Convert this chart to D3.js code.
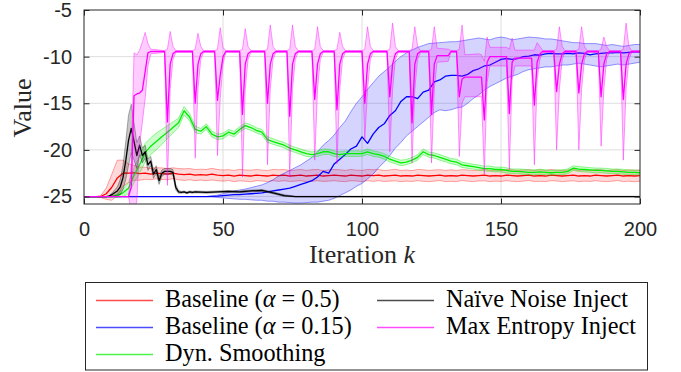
<!DOCTYPE html>
<html>
<head>
<meta charset="utf-8">
<script src="https://cdn.jsdelivr.net/npm/d3@7"></script>
<style>
  body { margin: 0; background: #fff; }
  svg { display: block; }
</style>
</head>
<body>
<svg id="chart" width="681" height="372"></svg>
<script>
// iteration grids the values were read on
const kEven = d3.range(0, 201, 2);
const kBlack = d3.range(0, 41).concat(d3.range(44, 201, 4));

const xTicks = [0, 50, 100, 150, 200];
const yTicks = [-25, -20, -15, -10, -5];

// Baseline (alpha = 0.5): mean and std, every 2 iterations
const redMean = [
  -25, -25, -25, -25, -24.7, -24.0, -23.0, -22.5, -22.5, -22.45,
  -22.55, -22.5, -22.6, -22.5, -22.55, -22.6, -22.5, -22.6, -22.65, -22.6,
  -22.7, -22.65, -22.7, -22.6, -22.7, -22.75, -22.7, -22.8, -22.7, -22.75,
  -22.8, -22.7, -22.75, -22.8, -22.7, -22.75, -22.7, -22.8, -22.75, -22.7,
  -22.8, -22.75, -22.7, -22.8, -22.75, -22.7, -22.75, -22.8, -22.7, -22.75,
  -22.8, -22.7, -22.75, -22.7, -22.8, -22.75, -22.7, -22.8, -22.75, -22.8,
  -22.7, -22.75, -22.8, -22.75, -22.7, -22.8, -22.75, -22.8, -22.7, -22.75,
  -22.8, -22.75, -22.7, -22.8, -22.75, -22.8, -22.7, -22.75, -22.8, -22.75,
  -22.7, -22.8, -22.75, -22.8, -22.7, -22.75, -22.8, -22.75, -22.7, -22.8,
  -22.75, -22.8, -22.7, -22.75, -22.8, -22.75, -22.7, -22.8, -22.75, -22.8,
  -22.75];
const redSd = [
  0, 0, 0, 0.1, 0.6, 1.4, 1.9, 1.4, 1.0, 0.8,
  0.7, 0.65, 0.6, 0.6, 0.62, 0.6, 0.58, 0.6, 0.62, 0.6,
  0.6, 0.58, 0.6, 0.62, 0.6, 0.6, 0.58, 0.6, 0.62, 0.6,
  0.62, 0.6, 0.58, 0.6, 0.6, 0.62, 0.6, 0.58, 0.6, 0.6,
  0.6, 0.62, 0.6, 0.58, 0.6, 0.6, 0.62, 0.6, 0.6, 0.58,
  0.6, 0.6, 0.62, 0.6, 0.58, 0.6, 0.62, 0.6, 0.6, 0.58,
  0.6, 0.62, 0.6, 0.6, 0.58, 0.6, 0.62, 0.6, 0.58, 0.6,
  0.6, 0.58, 0.62, 0.6, 0.6, 0.58, 0.6, 0.62, 0.6, 0.6,
  0.58, 0.6, 0.62, 0.6, 0.6, 0.58, 0.6, 0.6, 0.62, 0.6,
  0.6, 0.58, 0.6, 0.62, 0.6, 0.6, 0.58, 0.6, 0.6, 0.62,
  0.6];

// Baseline (alpha = 0.15): mean, lower and upper band edge, every 2 iterations
const blueMean = [
  -25, -25, -25, -25, -25, -25, -25, -25, -25, -25,
  -25, -25, -25, -25, -25, -25, -25, -25, -25, -25,
  -25, -25, -25, -24.98, -24.95, -24.9, -24.85, -24.8, -24.8, -24.75,
  -24.7, -24.65, -24.6, -24.5, -24.4, -24.3, -24.2, -24.1, -23.9, -23.7,
  -23.5, -23.3, -22.9, -22.3, -22.5, -21.5, -21.0, -20.5, -19.9, -19.6,
  -18.6, -19.3, -18.3, -17.6, -17.2, -16.3, -15.8, -14.8, -14.3, -14.3,
  -14.5, -13.8, -13.6, -12.7, -12.5, -12.1, -12.0, -12.0, -12.1, -11.9,
  -11.5, -11.3, -11.0, -10.9, -10.6, -10.3, -10.2, -10.3, -10.2, -10.0,
  -9.95, -9.8, -9.85, -9.7, -9.65, -9.7, -9.7, -9.65, -9.7, -9.6,
  -9.65, -9.8, -9.7, -9.65, -9.6, -9.6, -9.55, -9.6, -9.55, -9.5,
  -9.5];
const blueLo = [
  -25, -25, -25, -25, -25, -25, -25, -25, -25, -25,
  -25, -25, -25, -25, -25, -25, -25, -25, -25, -25,
  -25, -25, -25, -25.05, -25.1, -25.15, -25.2, -25.25, -25.3, -25.3,
  -25.35, -25.4, -25.4, -25.5, -25.5, -25.6, -25.6, -25.65, -25.7, -25.7,
  -25.65, -25.6, -25.6, -25.5, -25.4, -25.2, -24.9, -24.6, -24.3, -23.9,
  -23.6, -23.1, -22.6, -21.9, -21.3, -20.6, -19.8, -19.2, -18.5, -18.0,
  -17.5, -17.0, -16.5, -16.0, -15.7, -15.8, -15.7, -15.5, -15.4, -15.0,
  -14.5, -14.1, -13.6, -13.2, -12.9, -12.6, -12.3, -12.1, -11.9, -11.6,
  -11.4, -11.3, -11.2, -11.1, -11.1, -11.0, -10.9, -10.9, -10.8, -10.7,
  -10.8, -10.9, -11.0, -11.1, -11.0, -10.9, -10.8, -10.9, -10.8, -10.7,
  -10.6];
const blueHi = [
  -25, -25, -25, -25, -25, -25, -25, -25, -25, -25,
  -25, -25, -25, -25, -25, -25, -25, -25, -25, -25,
  -25, -25, -25, -24.95, -24.85, -24.7, -24.55, -24.4, -24.3, -24.2,
  -24.05, -23.9, -23.75, -23.5, -23.2, -22.8, -22.5, -22.2, -21.9, -21.6,
  -21.2, -20.8, -20.2, -19.5, -19.0, -18.4, -17.6, -16.9, -15.9, -15.0,
  -14.3, -13.5, -12.8, -12.1, -11.6, -11.1, -10.5, -10.0, -9.6, -9.3,
  -9.0, -8.8, -8.6, -8.55, -8.5, -8.45, -8.4, -8.4, -8.3, -8.2,
  -8.1, -8.0, -8.1, -8.2, -8.0, -7.9, -8.0, -8.2, -8.1, -8.0,
  -7.9, -7.95, -8.0, -8.1, -8.1, -8.2, -8.3, -8.4, -8.5, -8.5,
  -8.6, -8.6, -8.6, -8.7, -8.8, -8.7, -8.8, -8.9, -8.8, -8.7,
  -8.7];

// Dyn. Smoothing: mean and std, every 2 iterations
const greenMean = [
  -25, -25, -25, -25, -25, -25, -24.9, -24.6, -24.1, -22.7,
  -21.6, -20.3, -19.6, -19.1, -18.6, -18.1, -17.6, -17.1, -15.8, -16.5,
  -17.8, -18.0, -17.5, -18.3, -18.6, -18.5, -18.1, -18.3, -17.8, -17.4,
  -17.6, -17.9, -18.1, -18.9, -19.1, -19.3, -19.5, -19.8, -20.0, -20.2,
  -20.4, -20.5, -20.4, -20.2, -20.2, -20.4, -20.5, -20.4, -20.4, -20.4,
  -20.4, -20.2, -20.4, -20.5, -20.7, -21.0, -21.2, -21.4, -21.3, -21.1,
  -20.8, -20.2, -20.5, -20.6, -20.8, -21.0, -21.2, -21.3, -21.6, -21.7,
  -21.8, -21.9, -22.0, -22.0, -22.1, -22.1, -22.2, -22.3, -22.3, -22.35,
  -22.4, -22.4, -22.35, -22.4, -22.45, -22.4, -22.4, -22.3, -21.95, -22.05,
  -22.1, -22.15, -22.2, -22.2, -22.25, -22.3, -22.3, -22.35, -22.4, -22.4,
  -22.45];
const greenSd = [
  0, 0, 0, 0, 0, 0, 0.2, 0.4, 0.6, 0.8,
  0.9, 1.0, 0.9, 0.9, 0.8, 0.7, 0.6, 0.5, 0.45, 0.4,
  0.35, 0.3, 0.3, 0.32, 0.3, 0.3, 0.28, 0.3, 0.3, 0.3,
  0.3, 0.28, 0.3, 0.3, 0.3, 0.28, 0.3, 0.3, 0.28, 0.3,
  0.3, 0.28, 0.3, 0.3, 0.28, 0.3, 0.3, 0.28, 0.3, 0.3,
  0.28, 0.3, 0.3, 0.28, 0.3, 0.3, 0.28, 0.3, 0.28, 0.3,
  0.28, 0.3, 0.28, 0.28, 0.3, 0.28, 0.28, 0.3, 0.28, 0.28,
  0.26, 0.28, 0.26, 0.28, 0.26, 0.26, 0.28, 0.26, 0.26, 0.28,
  0.26, 0.26, 0.28, 0.26, 0.26, 0.25, 0.26, 0.26, 0.25, 0.26,
  0.26, 0.25, 0.26, 0.25, 0.26, 0.25, 0.25, 0.26, 0.25, 0.25,
  0.25];

// Naive Noise Inject: every iteration up to 40, then every 4
const blackMean = [
  -25, -25, -25, -25, -25, -25, -25, -25, -25, -24.95,
  -24.8, -24.6, -24.4, -24.0, -23.0, -21.2, -19.0, -17.7, -19.1, -20.6,
  -19.5, -20.6, -20.2, -21.6, -21.2, -22.6, -22.1, -23.3, -22.5, -22.3,
  -22.3, -22.3, -22.4, -24.0, -24.5, -24.55, -24.5, -24.6, -24.5, -24.55,
  -24.5,
  -24.55, -24.5, -24.45, -24.5, -24.4, -24.35, -24.6, -24.9,
  -25, -25, -25, -25, -25, -25, -25, -25, -25, -25,
  -25, -25, -25, -25, -25, -25, -25, -25, -25, -25,
  -25, -25, -25, -25, -25, -25, -25, -25, -25, -25,
  -25, -25];
const blackSd = [
  0, 0, 0, 0, 0, 0, 0, 0, 0, 0.05,
  0.15, 0.3, 0.45, 0.8, 1.3, 2.0, 2.7, 2.6, 2.0, 1.4,
  1.0, 0.8, 0.7, 0.6, 0.5, 0.45, 0.4, 0.4, 0.35, 0.3,
  0.3, 0.3, 0.3, 0.3, 0.15, 0.1, 0.1, 0.1, 0.1, 0.1,
  0.1,
  0.1, 0.1, 0.1, 0.1, 0.1, 0.1, 0.1, 0.1,
  0.03, 0.03, 0.03, 0.03, 0.03, 0.03, 0.03, 0.03, 0.03, 0.03,
  0.03, 0.03, 0.03, 0.03, 0.03, 0.03, 0.03, 0.03, 0.03, 0.03,
  0.03, 0.03, 0.03, 0.03, 0.03, 0.03, 0.03, 0.03, 0.03, 0.03,
  0.03, 0.03];

// Max Entropy Inject: points read around each dip
const magK = [
  0, 16, 17, 18, 19, 20, 21, 22, 23, 24,
  29, 30, 31, 32, 33,
  39, 40, 41, 42, 43,
  47, 48, 49, 50, 51,
  56, 57, 58, 59, 60,
  65, 66, 67, 68, 69,
  73, 74, 75, 76, 77,
  82, 83, 84, 85, 86,
  90, 91, 92, 93, 94,
  100, 101, 102, 103, 104,
  109, 110, 111, 112, 113,
  117, 118, 119, 120, 121,
  124, 125, 126, 127, 131, 132,
  134, 135, 136, 137, 142, 143,
  144, 145, 146, 152,
  153, 154, 155, 161,
  162, 163, 164, 165,
  169, 170, 171, 172, 173,
  177, 178, 179, 180, 181,
  185, 186, 187, 188, 189,
  193, 194, 195, 196, 197,
  200];
const magMean = [
  -25, -25, -24.0, -14.2, -14.0, -13.9, -13.6, -11.6, -9.6, -9.45,
  -9.45, -17.0, -10.8, -9.7, -9.45,
  -9.45, -15.0, -10.8, -9.7, -9.45,
  -9.45, -14.7, -12.0, -10.0, -9.45,
  -9.45, -16.2, -10.8, -9.7, -9.45,
  -9.45, -15.0, -10.8, -9.7, -9.45,
  -9.45, -16.4, -10.8, -9.7, -9.45,
  -9.45, -14.6, -10.8, -9.7, -9.45,
  -9.45, -15.7, -10.8, -9.7, -9.45,
  -9.45, -15.0, -10.8, -9.7, -9.45,
  -9.45, -14.3, -10.8, -9.7, -9.45,
  -9.45, -17.1, -10.8, -9.7, -9.45,
  -9.45, -16.2, -10.8, -9.9, -9.9, -9.45,
  -9.45, -14.3, -12.4, -12.2, -12.2, -12.2,
  -16.8, -10.6, -10.0, -10.0,
  -16.1, -10.6, -10.15, -10.15,
  -15.2, -10.6, -9.7, -9.45,
  -9.45, -13.75, -10.8, -9.7, -9.45,
  -9.45, -13.9, -10.8, -9.7, -9.45,
  -9.45, -14.3, -10.8, -9.7, -9.45,
  -9.45, -14.6, -10.8, -9.7, -9.45,
  -9.45];
const magLo = [
  -25, -25, -26.5, -26.5, -25.5, -19.5, -17.0, -14.5, -11.0, -9.7,
  -9.55, -23.8, -13.5, -10.3, -9.55,
  -9.55, -20.9, -13.5, -10.3, -9.55,
  -9.55, -20.6, -14.5, -10.8, -9.55,
  -9.55, -22.9, -13.5, -10.3, -9.55,
  -9.55, -21.6, -13.5, -10.3, -9.55,
  -9.55, -22.9, -13.5, -10.3, -9.55,
  -9.55, -21.1, -13.5, -10.3, -9.55,
  -9.55, -21.5, -13.5, -10.3, -9.55,
  -9.55, -18.9, -13.5, -10.3, -9.55,
  -9.55, -20.2, -13.5, -10.3, -9.55,
  -9.55, -21.4, -13.5, -10.3, -9.55,
  -9.55, -21.4, -13.5, -10.6, -10.5, -9.55,
  -9.55, -20.7, -15.0, -14.3, -14.3, -14.3,
  -22.6, -12.8, -11.0, -11.0,
  -22.1, -12.5, -11.0, -11.0,
  -21.6, -12.5, -10.3, -9.55,
  -9.55, -20.0, -13.5, -10.3, -9.55,
  -9.55, -20.0, -13.5, -10.3, -9.55,
  -9.55, -19.6, -13.5, -10.3, -9.55,
  -9.55, -21.1, -13.5, -10.3, -9.55,
  -9.55];
const magHi = [
  -25, -25, -21.5, -9.6, -9.8, -9.3, -8.4, -7.4, -8.6, -9.2,
  -9.35, -9.2, -7.3, -8.9, -9.35,
  -9.35, -9.2, -7.5, -8.9, -9.35,
  -9.35, -9.2, -6.9, -9.0, -9.35,
  -9.35, -9.2, -7.0, -8.9, -9.35,
  -9.35, -9.2, -6.6, -8.9, -9.35,
  -9.35, -9.2, -6.6, -8.9, -9.35,
  -9.35, -9.2, -6.8, -8.9, -9.35,
  -9.35, -9.2, -7.4, -8.9, -9.35,
  -9.35, -9.2, -6.8, -8.9, -9.35,
  -9.35, -9.2, -6.4, -8.9, -9.35,
  -9.35, -9.2, -6.8, -8.9, -9.35,
  -9.35, -9.2, -6.8, -9.1, -9.2, -9.35,
  -9.35, -9.2, -6.6, -9.8, -9.7, -9.8,
  -10.5, -7.9, -9.0, -9.0,
  -9.2, -8.0, -9.3, -9.3,
  -9.3, -8.5, -8.9, -9.35,
  -9.35, -9.2, -6.8, -8.9, -9.35,
  -9.35, -9.2, -6.8, -8.9, -9.35,
  -9.35, -9.2, -7.9, -8.9, -9.35,
  -9.35, -9.2, -6.4, -8.9, -9.35,
  -9.35];

const legendNames = ['Baseline (α = 0.5)', 'Baseline (α = 0.15)', 'Dyn. Smoothing',
                     'Naïve Noise Inject', 'Max Entropy Inject'];
const legendColors = ['#ff0000', '#0000ff', '#00ee00', '#000000', '#ff00ff'];

const svg = d3.select('#chart');
const x = d3.scaleLinear().domain([0, 200]).range([84, 640]);
const y = d3.scaleLinear().domain([-25.8, -5]).range([204, 10]);

svg.append('defs').append('clipPath').attr('id', 'clip')
  .append('rect').attr('x', 84).attr('y', 10).attr('width', 556).attr('height', 194);

// grid
const grid = svg.append('g').attr('stroke', '#dedede').attr('stroke-width', 1);
grid.selectAll('.gx').data(xTicks.slice(1, -1)).join('line').attr('class', 'gx')
  .attr('x1', d => x(d)).attr('x2', d => x(d)).attr('y1', 10).attr('y2', 204);
grid.selectAll('.gy').data(yTicks.slice(0, -1)).join('line').attr('class', 'gy')
  .attr('x1', 84).attr('x2', 640).attr('y1', d => y(d)).attr('y2', d => y(d));

const plot = svg.append('g').attr('clip-path', 'url(#clip)');

function drawSeries(ks, mean, lo, hi, color, fillOp, edgeOp) {
  const pts = ks.map((k, i) => ({ k: k, m: mean[i], lo: lo[i], hi: hi[i] }));
  plot.append('path').datum(pts)
    .attr('d', d3.area().x(d => x(d.k)).y0(d => y(d.lo)).y1(d => y(d.hi)))
    .attr('fill', color).attr('fill-opacity', fillOp);
  ['lo', 'hi'].forEach(key => {
    plot.append('path').datum(pts)
      .attr('d', d3.line().x(d => x(d.k)).y(d => y(d[key])))
      .attr('fill', 'none').attr('stroke', color)
      .attr('stroke-opacity', edgeOp).attr('stroke-width', 1);
  });
  plot.append('path').datum(pts)
    .attr('d', d3.line().x(d => x(d.k)).y(d => y(d.m)))
    .attr('fill', 'none').attr('stroke', color)
    .attr('stroke-width', 1.3).attr('stroke-linejoin', 'round');
}

const minus = (m, s) => m.map((v, i) => v - s[i]);
const plus = (m, s) => m.map((v, i) => v + s[i]);

drawSeries(kEven, redMean, minus(redMean, redSd), plus(redMean, redSd), legendColors[0], 0.15, 0.35);
drawSeries(kEven, blueMean, blueLo, blueHi, legendColors[1], 0.17, 0.4);
drawSeries(kEven, greenMean, minus(greenMean, greenSd), plus(greenMean, greenSd), legendColors[2], 0.2, 0.4);
drawSeries(kBlack, blackMean, minus(blackMean, blackSd), plus(blackMean, blackSd), legendColors[3], 0.22, 0.3);
drawSeries(magK, magMean, magLo, magHi, legendColors[4], 0.2, 0.4);

// axes, MATLAB style: inward ticks on all four sides
const fmt = d => String(d);
function styleAxis(g) {
  g.select('.domain').remove();
  g.selectAll('line').attr('stroke', '#262626');
  g.selectAll('text').attr('fill', '#262626')
    .attr('font-family', 'Liberation Sans, Arial, sans-serif').attr('font-size', 20);
}
svg.append('g').attr('transform', 'translate(0,204)')
  .call(d3.axisBottom(x).tickValues(xTicks).tickSize(-5.5).tickPadding(18).tickFormat(fmt))
  .call(styleAxis);
svg.append('g').attr('transform', 'translate(0,10)')
  .call(d3.axisTop(x).tickValues(xTicks).tickSize(-5.5).tickFormat(''))
  .call(styleAxis);
svg.append('g').attr('transform', 'translate(84,0)')
  .call(d3.axisLeft(y).tickValues(yTicks).tickSize(-5.5).tickPadding(12).tickFormat(fmt))
  .call(styleAxis);
svg.append('g').attr('transform', 'translate(640,0)')
  .call(d3.axisRight(y).tickValues(yTicks).tickSize(-5.5).tickFormat(''))
  .call(styleAxis);

svg.append('rect').attr('x', 84).attr('y', 10).attr('width', 556).attr('height', 194)
  .attr('fill', 'none').attr('stroke', '#262626').attr('stroke-width', 1);

// serif text, sized so its width matches the reference whichever serif face is found
const serif = 'Liberation Serif, DejaVu Serif, Noto Serif, serif';
function fitWidth(sel, target) {
  const w = sel.node().getComputedTextLength();
  const fs = parseFloat(sel.attr('font-size'));
  return fs * target / w;
}

const xl = svg.append('text').attr('x', 362).attr('y', 263).attr('text-anchor', 'middle')
  .attr('font-family', serif).attr('font-size', 22).attr('fill', '#262626');
xl.append('tspan').text('Iteration ');
xl.append('tspan').attr('font-style', 'italic').text('k');
xl.attr('font-size', Math.min(26, fitWidth(xl, 111)));

const yl = svg.append('text').attr('transform', 'translate(31,108) rotate(-90)')
  .attr('text-anchor', 'middle')
  .attr('font-family', serif).attr('font-size', 22).attr('fill', '#262626')
  .text('Value');
yl.attr('font-size', Math.min(26, fitWidth(yl, 60)));

// legend
const legend = svg.append('g');
legend.append('rect').attr('x', 85.5).attr('y', 282.5).attr('width', 562).attr('height', 87.5)
  .attr('fill', '#fff').attr('stroke', '#262626').attr('stroke-width', 1);
const rowY = [300.5, 327.5, 354.5];
const colX = [96, 377];
const legendTexts = [];
legendNames.forEach((name, i) => {
  const col = i < 3 ? 0 : 1;
  const row = i < 3 ? i : i - 3;
  const ly = rowY[row];
  legend.append('line').attr('x1', colX[col]).attr('x2', colX[col] + 57)
    .attr('y1', ly).attr('y2', ly)
    .attr('stroke', legendColors[i]).attr('stroke-opacity', 0.7).attr('stroke-width', 1.5);
  const t = legend.append('text').attr('x', colX[col] + 69).attr('y', ly + 6.5)
    .attr('font-family', serif).attr('font-size', 22).attr('fill', '#000');
  const parts = name.split('α');
  t.append('tspan').text(parts[0]);
  if (parts.length > 1) {
    t.append('tspan').attr('font-style', 'italic').text('α');
    t.append('tspan').text(parts[1]);
  }
  legendTexts.push(t);
});
const legendSize = Math.min(25, fitWidth(legendTexts[3], 182));
legendTexts.forEach(t => t.attr('font-size', legendSize));
</script>
</body>
</html>
